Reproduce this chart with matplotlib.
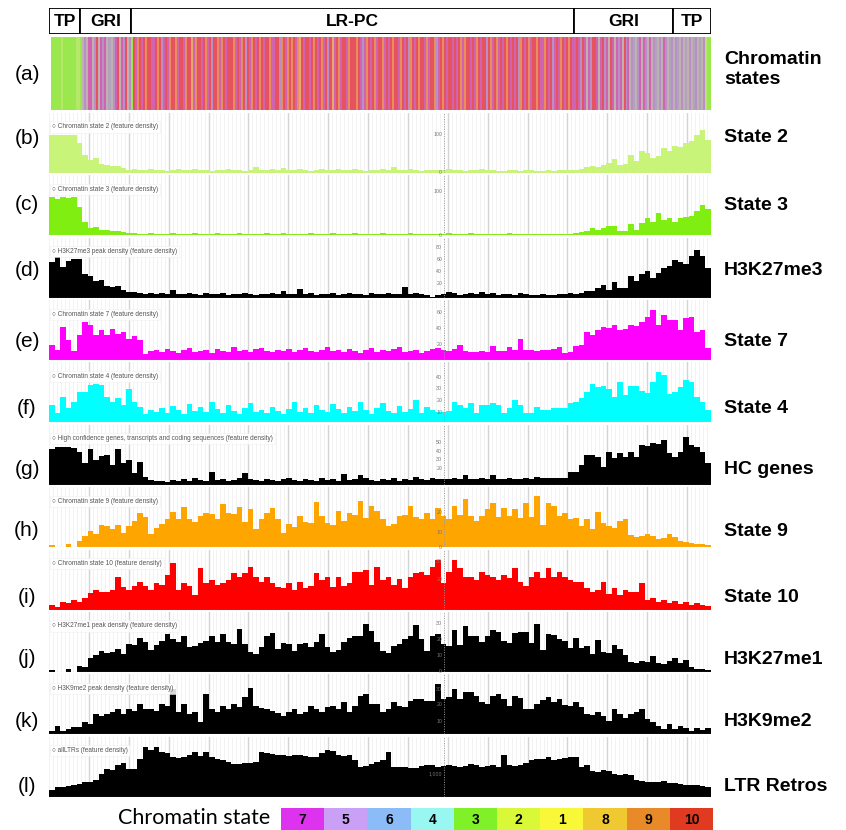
import numpy as np
import matplotlib
matplotlib.use("Agg")
import matplotlib.pyplot as plt
from matplotlib.patches import Rectangle

plt.rcParams["font.family"] = ["Liberation Sans", "DejaVu Sans"]

W, H = 846, 830
CHR_LEN = 830          # chromosome length, Mb
SCALE_X = 495          # where the track y-scales are printed (Mb)

# chromosome partitions (Mb)
regions = ["TP", "GRI", "LR-PC", "GRI", "TP"]
region_edges = [0, 39, 103, 658, 782, 830]

# chromatin state stripes per partition ('0' = state 10)
stripe_tp_l = "333332333333223"
stripe_gri_l = "4547745047574645704750453"
stripe_lrpc = ("0790709007" "7090570790" "0970079008" "7900709705" "0097907000"
               "9707905079" "0709070097" "7005907909" "0798070070" "9070970508"
               "7097007900" "0907579070" "9700970709" "0079070590" "7090079700"
               "9570907007" "0709790070" "7907005097" "0970709070" "7059070970"
               "0907790705" "7079070907")
stripe_gri_r = ("7075074750" "0747057407" "4757405745" "6457475474" "5645475465")
stripe_tp_r = "4564546454654645233"
stripe_segments = [stripe_tp_l, stripe_gri_l, stripe_lrpc, stripe_gri_r, stripe_tp_r]

stripe_palette = {"0": "#e6525e", "9": "#e88e5c", "8": "#e8a86a", "7": "#d064b0",
                  "5": "#b890c8", "6": "#b0a4bc", "4": "#c0b0b0", "3": "#9ae84e",
                  "2": "#b6e66a", "1": "#e4d880"}

# feature density tracks (bar heights, 0-60 panel scale)
state2 = [38, 38, 38, 38, 38, 30, 18, 13, 15, 9,
          8, 7, 7, 5, 3, 4, 3, 3, 4, 3,
          3, 2, 3, 4, 3, 3, 4, 3, 3, 2,
          3, 3, 4, 3, 3, 2, 3, 6, 3, 3,
          4, 3, 5, 3, 3, 4, 3, 2, 3, 4,
          3, 3, 4, 3, 3, 4, 3, 2, 3, 3,
          4, 3, 6, 3, 3, 4, 3, 2, 3, 3,
          3, 3, 4, 3, 3, 2, 3, 3, 4, 3,
          3, 2, 2, 3, 3, 2, 3, 3, 2, 2,
          3, 2, 3, 3, 3, 3, 4, 6, 7, 6,
          8, 10, 14, 8, 9, 18, 12, 22, 20, 15,
          17, 25, 22, 27, 26, 30, 32, 38, 43, 33]
state3 = [38, 36, 38, 37, 38, 28, 13, 7, 8, 5,
          5, 4, 4, 3, 2, 2, 1, 1, 2, 1,
          1, 1, 2, 1, 1, 1, 2, 1, 1, 1,
          2, 1, 1, 1, 2, 1, 1, 1, 1, 2,
          1, 1, 2, 1, 1, 1, 1, 2, 1, 1,
          1, 2, 1, 1, 1, 2, 1, 1, 1, 1,
          2, 1, 1, 1, 1, 2, 1, 1, 1, 1,
          1, 1, 2, 1, 1, 1, 2, 1, 1, 1,
          1, 1, 1, 2, 1, 1, 1, 1, 1, 1,
          1, 1, 1, 1, 1, 2, 3, 4, 7, 5,
          7, 9, 9, 4, 4, 11, 5, 12, 17, 13,
          22, 15, 17, 13, 17, 18, 19, 24, 30, 26]
h3k27me3 = [36, 41, 31, 37, 39, 39, 24, 22, 17, 18,
            12, 11, 12, 8, 6, 6, 5, 4, 5, 4,
            5, 4, 8, 4, 4, 5, 4, 3, 5, 4,
            4, 5, 3, 4, 4, 5, 4, 3, 4, 4,
            5, 4, 7, 4, 4, 9, 4, 5, 3, 4,
            4, 5, 3, 4, 5, 4, 4, 3, 5, 4,
            4, 5, 4, 4, 11, 4, 5, 4, 3, 1,
            3, 4, 6, 5, 3, 4, 5, 4, 6, 4,
            5, 3, 4, 4, 3, 5, 4, 3, 3, 4,
            3, 3, 4, 4, 5, 4, 5, 7, 7, 10,
            13, 8, 16, 10, 10, 22, 17, 24, 27, 20,
            25, 30, 32, 38, 36, 34, 42, 48, 42, 30]
state7 = [15, 10, 33, 20, 9, 25, 38, 35, 25, 30,
          25, 31, 26, 28, 21, 24, 20, 6, 9, 10,
          8, 11, 9, 7, 10, 12, 8, 9, 10, 7,
          11, 9, 8, 13, 9, 10, 8, 11, 12, 9,
          8, 10, 9, 11, 8, 10, 12, 9, 8, 10,
          13, 9, 10, 8, 11, 9, 7, 10, 12, 8,
          10, 9, 11, 13, 8, 9, 10, 7, 9, 11,
          12, 10, 9, 11, 15, 9, 8, 8, 9, 8,
          14, 9, 9, 13, 10, 21, 10, 10, 9, 10,
          10, 11, 13, 7, 8, 14, 15, 28, 25, 30,
          33, 32, 35, 30, 31, 35, 34, 38, 43, 50,
          35, 45, 40, 40, 30, 42, 43, 28, 30, 12]
state4 = [17, 9, 25, 14, 20, 30, 30, 37, 38, 37,
          25, 20, 24, 17, 33, 20, 15, 8, 12, 10,
          14, 9, 16, 12, 8, 18, 11, 15, 10, 20,
          13, 9, 17, 11, 8, 14, 19, 10, 12, 9,
          15, 11, 8, 13, 20, 10, 14, 9, 17, 12,
          10, 18, 13, 9, 15, 11, 20, 12, 8, 14,
          19, 11, 9, 16, 10, 13, 22, 9, 15, 12,
          10, 10, 11, 20, 17, 14, 19, 9, 17, 17,
          19, 17, 9, 14, 22, 17, 9, 9, 15, 12,
          12, 14, 14, 14, 19, 20, 24, 30, 38, 35,
          36, 33, 25, 40, 27, 36, 36, 31, 29, 40,
          50, 47, 28, 30, 35, 42, 40, 25, 20, 12]
hc_genes = [36, 38, 38, 38, 37, 33, 22, 36, 25, 29,
            30, 20, 36, 22, 25, 12, 23, 8, 5, 4,
            4, 3, 5, 4, 6, 4, 7, 5, 4, 13,
            5, 6, 4, 5, 7, 12, 6, 5, 4, 6,
            5, 4, 6, 7, 5, 4, 6, 5, 4, 7,
            5, 6, 4, 11, 5, 6, 10, 7, 5, 4,
            6, 5, 7, 4, 6, 5, 8, 6, 5, 7,
            6, 6, 6, 7, 6, 10, 6, 6, 7, 6,
            10, 6, 6, 7, 6, 6, 7, 6, 8, 7,
            7, 7, 7, 7, 13, 13, 20, 30, 30, 28,
            18, 33, 27, 32, 28, 33, 28, 40, 39, 42,
            41, 45, 32, 28, 33, 48, 40, 38, 33, 22]
state9 = [2, 0, 0, 3, 0, 6, 11, 16, 13, 22,
          21, 18, 22, 14, 21, 26, 34, 30, 13, 19,
          23, 28, 35, 28, 40, 28, 25, 31, 34, 33,
          28, 43, 34, 33, 40, 25, 38, 18, 28, 34,
          39, 28, 14, 23, 20, 31, 25, 24, 45, 31,
          24, 22, 36, 26, 34, 32, 46, 29, 41, 36,
          28, 21, 23, 31, 32, 41, 30, 28, 34, 28,
          39, 31, 28, 41, 32, 48, 31, 26, 31, 38,
          44, 30, 39, 31, 38, 29, 44, 30, 51, 22,
          44, 41, 31, 34, 28, 29, 21, 28, 18, 35,
          24, 21, 19, 26, 28, 12, 10, 11, 13, 11,
          8, 9, 13, 10, 6, 5, 4, 3, 3, 2]
state10 = [5, 3, 8, 7, 10, 8, 12, 17, 20, 18,
           18, 20, 33, 23, 20, 24, 28, 24, 20, 27,
           25, 35, 47, 20, 27, 24, 15, 42, 27, 30,
           25, 27, 30, 37, 33, 37, 43, 33, 28, 33,
           27, 23, 22, 27, 20, 28, 22, 24, 37, 30,
           33, 23, 33, 24, 27, 38, 38, 40, 25, 43,
           30, 33, 25, 31, 22, 33, 37, 38, 35, 43,
           50, 27, 38, 50, 42, 33, 33, 30, 38, 35,
           33, 30, 35, 32, 42, 28, 24, 33, 38, 32,
           42, 33, 38, 33, 30, 28, 28, 22, 18, 20,
           28, 16, 22, 15, 20, 18, 18, 27, 10, 12,
           8, 10, 7, 9, 6, 8, 5, 7, 5, 4]
h3k27me1 = [2, 0, 0, 3, 0, 6, 5, 14, 17, 21,
            19, 20, 23, 18, 28, 27, 34, 30, 22, 27,
            31, 38, 33, 30, 36, 25, 26, 29, 31, 36,
            30, 38, 30, 28, 43, 28, 20, 18, 25, 36,
            39, 23, 29, 28, 21, 28, 29, 25, 30, 38,
            25, 20, 22, 30, 34, 36, 36, 48, 41, 30,
            21, 19, 26, 28, 33, 36, 47, 33, 21, 36,
            38, 28, 26, 42, 27, 46, 36, 36, 30, 36,
            42, 40, 31, 29, 39, 40, 40, 29, 48, 22,
            38, 37, 33, 31, 24, 34, 24, 26, 18, 32,
            20, 19, 27, 23, 17, 10, 9, 11, 10, 16,
            9, 8, 11, 14, 9, 12, 5, 3, 3, 2]
h3k9me2 = [3, 8, 3, 5, 7, 7, 12, 10, 20, 18,
           20, 22, 25, 20, 25, 23, 30, 25, 25, 23,
           30, 28, 45, 22, 30, 20, 22, 12, 40, 25,
           22, 28, 25, 30, 27, 37, 46, 28, 26, 25,
           23, 21, 18, 22, 25, 20, 22, 28, 25, 22,
           27, 28, 25, 32, 22, 28, 38, 40, 30, 30,
           22, 25, 32, 28, 27, 33, 35, 35, 33, 33,
           50, 35, 37, 45, 35, 42, 42, 38, 32, 30,
           38, 40, 35, 28, 38, 36, 25, 25, 30, 34,
           37, 32, 35, 29, 28, 32, 27, 20, 19, 22,
           18, 13, 25, 20, 16, 20, 22, 25, 15, 12,
           8, 5, 10, 5, 8, 6, 3, 6, 4, 6]
ltr_retros = [7, 10, 10, 11, 12, 13, 15, 15, 17, 23,
              28, 27, 32, 34, 28, 28, 38, 50, 47, 50,
              45, 44, 40, 39, 40, 42, 45, 41, 45, 40,
              38, 37, 35, 33, 33, 34, 34, 35, 45, 44,
              43, 42, 42, 41, 42, 42, 41, 40, 40, 44,
              47, 46, 42, 41, 42, 37, 30, 31, 33, 35,
              37, 45, 30, 30, 30, 29, 29, 31, 32, 32,
              30, 31, 32, 31, 30, 31, 33, 32, 30, 31,
              32, 30, 42, 32, 31, 32, 34, 37, 38, 38,
              40, 37, 38, 39, 40, 40, 30, 32, 26, 25,
              27, 26, 23, 22, 23, 22, 17, 16, 15, 15,
              15, 16, 14, 14, 13, 12, 12, 12, 11, 10]

tracks = [state2, state3, h3k27me3, state7, state4, hc_genes,
          state9, state10, h3k27me1, h3k9me2, ltr_retros]
track_colors = ["#c8f47a", "#7fee10", "#000000", "#ff00ff", "#00ffff", "#000000",
                "#ffa500", "#ff0000", "#000000", "#000000", "#000000"]
track_titles = ["Chromatin state 2", "Chromatin state 3", "H3K27me3 peak density",
                "Chromatin state 7", "Chromatin state 4",
                "High confidence genes, transcripts and coding sequences",
                "Chromatin state 9", "Chromatin state 10", "H3K27me1 peak density",
                "H3K9me2 peak density", "allLTRs"]
track_names = ["State 2", "State 3", "H3K27me3", "State 7", "State 4", "HC genes",
               "State 9", "State 10", "H3K27me1", "H3K9me2", "LTR Retros"]
panel_letters = ["(b)", "(c)", "(d)", "(e)", "(f)", "(g)", "(h)", "(i)", "(j)", "(k)", "(l)"]
# y-scale labels printed in each track: (height on panel scale, text)
track_scales = [[(38, "100"), (0, "0")], [(44, "100"), (0, "0")],
                [(50, "80"), (38, "60"), (26, "40"), (14, "20")],
                [(48, "60"), (32, "40"), (16, "20")],
                [(45, "40"), (34, "30"), (22, "20"), (10, "10")],
                [(42, "50"), (33, "40"), (25, "30"), (16, "20")],
                [(35, "20"), (15, "10"), (0, "0")], [(48, "30"), (30, "20")],
                [(48, "30"), (32, "20"), (16, "10"), (0, "0")],
                [(45, "30"), (30, "20"), (13, "10")], [(23, "1,000")]]
ruler_labels = ["100,000,000", "200,000,000", "300,000,000", "400,000,000",
                "500,000,000", "600,000,000", "700,000,000", "800,000,000"]

legend_states = ["7", "5", "6", "4", "3", "2", "1", "8", "9", "10"]
legend_colors = ["#dd33ee", "#c9a0f5", "#8cbcf8", "#98f7f0", "#80f028",
                 "#d8f838", "#f8f838", "#f0c830", "#e88a28", "#e03a20"]

# label rows (figure pixels) taken from the scan layout
label_rows = [138, 205, 270, 341, 408, 469, 531, 597, 659, 721, 786]

fig = plt.figure(figsize=(W / 100, H / 100), dpi=100)


def px_axes(x0, y0, x1, y1):
    ax = fig.add_axes([x0 / W, 1 - y1 / H, (x1 - x0) / W, (y1 - y0) / H])
    ax.set_axis_off()
    return ax


def fig_text(x, y, s, **kw):
    fig.text(x / W, 1 - y / H, s, **kw)


# partition bar
ax = px_axes(49, 8, 711, 34)
ax.set_xlim(0, CHR_LEN)
ax.set_ylim(0, 1)
for name, a, b in zip(regions, region_edges[:-1], region_edges[1:]):
    ax.add_patch(Rectangle((a, 0), b - a, 1, fc="white", ec="black", lw=1.3))
    ax.text((a + b) / 2, 0.48, name, ha="center", va="center",
            fontsize=12.5, fontweight="bold")

# chromatin state stripe
ax = px_axes(51, 37, 711, 110)
ax.set_xlim(0, CHR_LEN)
ax.set_ylim(0, 1)
for seq, a, b in zip(stripe_segments, region_edges[:-1], region_edges[1:]):
    w = (b - a) / len(seq)
    xs = a + w * np.arange(len(seq))
    ax.bar(xs, 1, width=w * 1.02, align="edge", lw=0,
           color=[stripe_palette[c] for c in seq])
fig_text(27, 75, "(a)", fontsize=15, ha="center", va="center")
fig_text(724, 60, "Chromatin", fontsize=14, fontweight="bold", va="center")
fig_text(724, 80, "states", fontsize=14, fontweight="bold", va="center")

# ruler
ax = px_axes(49, 114, 711, 120)
ax.set_xlim(0, CHR_LEN)
ax.set_ylim(0, 1)
ax.axhline(0.62, color="#666666", lw=1.0)
for k, lab in enumerate(ruler_labels):
    ax.text(100 * (k + 1), 0.1, lab, fontsize=2.8, color="#999999",
            ha="center", va="center")
    ax.plot([100 * k + 50] * 2, [0.62, 0.0], color="#bbbbbb", lw=0.6)

# feature density tracks
edges = np.linspace(0, CHR_LEN, len(state2) + 1)
for k, vals in enumerate(tracks):
    base = 173 + 62.37 * k
    ax = fig.add_axes([49 / W, 1 - base / H, 662 / W, 60 / H])
    ax.set_xlim(0, CHR_LEN)
    ax.set_ylim(0, 60)
    ax.set_xticks(np.arange(50, CHR_LEN, 50))
    ax.set_xticks(np.arange(0, CHR_LEN, 5), minor=True)
    ax.grid(axis="x", which="minor", color="#f0f0f0", lw=0.6)
    ax.grid(axis="x", which="major", color="#d4d4d4", lw=1.0)
    ax.set_axisbelow(True)
    ax.tick_params(which="both", length=0, labelbottom=False, labelleft=False)
    ax.set_yticks([])
    for sp in ax.spines.values():
        sp.set_visible(False)
    ax.bar(edges[:-1], vals, width=np.diff(edges), align="edge",
           color=track_colors[k], lw=0)
    ax.axhline(0, color="#c8c8c8", lw=0.8)
    ax.axvline(SCALE_X, color="#9a9a9a", lw=0.7, ls=(0, (1, 1.5)))
    for h, lab in track_scales[k]:
        ax.text(SCALE_X - 2, h, lab, fontsize=3.8, color="#777777",
                ha="right", va="center")
    ax.text(4, 46, "\u25cb " + track_titles[k] + " (feature density)",
            fontsize=4.7, color="#555555", va="center",
            bbox=dict(fc="white", ec="#eeeeee", lw=0.4, alpha=0.85, pad=1.5))
    fig_text(27, label_rows[k], panel_letters[k], fontsize=15,
             ha="center", va="center")
    fig_text(724, label_rows[k], track_names[k], fontsize=14,
             fontweight="bold", va="center")

# chromatin state colour key
ax = px_axes(281, 808, 713, 830)
ax.set_xlim(0, len(legend_states))
ax.set_ylim(0, 1)
ax.bar(np.arange(len(legend_states)), 1, width=1, align="edge",
       color=legend_colors, lw=0)
for k, s in enumerate(legend_states):
    ax.text(k + 0.5, 0.45, s, ha="center", va="center", fontsize=10,
            fontweight="bold", family=["Liberation Sans Narrow", "Liberation Sans"])
fig_text(270, 818, "Chromatin state", fontsize=15.5, ha="right", va="center",
         family=["Lato", "DejaVu Sans"])

fig.savefig("out.png", dpi=100)
